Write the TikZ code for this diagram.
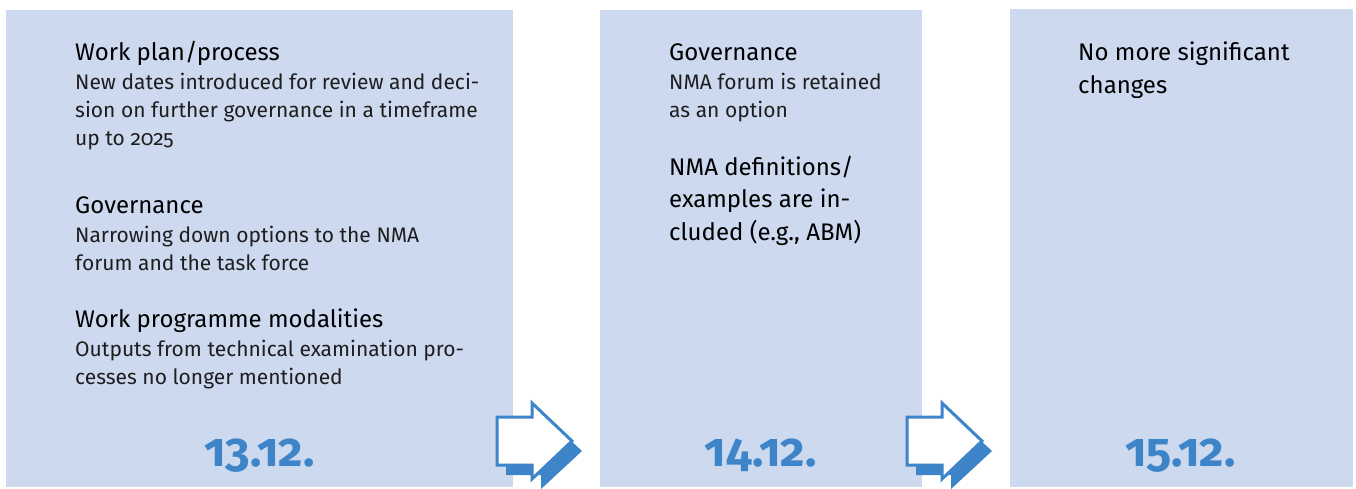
\documentclass[tikz,border=0pt]{standalone}
\usepackage{fontspec}
\setmainfont{Fira Sans}[Numbers=OldStyle]
\definecolor{panelblue}{HTML}{CDD9EF}
\definecolor{arrowblue}{HTML}{3D84C8}
\definecolor{bodytext}{HTML}{1E1E1E}
\begin{document}
\begin{tikzpicture}[x=1pt,y=-1pt,
  panel/.style={fill=panelblue,draw=none},
  head/.style={anchor=base west,inner sep=0pt,font=\fontsize{24}{32}\selectfont,text=black},
  body/.style={anchor=base west,inner sep=0pt,font=\fontsize{21}{28}\selectfont,text=bodytext},
  date/.style={anchor=base,inner sep=0pt,font=\fontsize{47.5}{50}\bfseries\selectfont,text=arrowblue},
  shadowarrow/.style={fill=arrowblue,draw=none},
  outlinearrow/.style={fill=white,draw=arrowblue,line width=3pt,line join=miter}]
\useasboundingbox (0,0) rectangle (1356,488);

% three panels
\fill[panel] (6,10) rectangle (513,487);
\fill[panel] (600,10) rectangle (922,487);
\fill[panel] (1010,9) rectangle (1353,487);

% hollow arrows with a solid drop shadow
\foreach \dx in {0,410}{
  \begin{scope}[xshift=\dx]
    \fill[shadowarrow] (506,427) -- (541,427) -- (541,413) -- (582,451) -- (541,489) -- (541,475) -- (506,475) -- cycle;
    \draw[outlinearrow] (497,417) -- (532,417) -- (532,403) -- (572,441) -- (532,479) -- (532,465) -- (497,465) -- cycle;
  \end{scope}
}

% one node per printed line: block name, left edge, first baseline, line pitch, style
\newcommand\textlines[6]{%
  \foreach [count=\i] \ln in {#6}
    \node[#5] (#1-\i) at (#2,{#3+(\i-1)*#4}) {\ln};}

% panel 1
\textlines{h1}{75}{60}{28}{head}{Work plan/process}
\textlines{b1}{75}{89}{28}{body}{New dates introduced for review and deci-,sion on further governance in a timeframe,up to 2025}
\textlines{h2}{75}{213}{28}{head}{Governance}
\textlines{b2}{75}{242}{28}{body}{Narrowing down options to the NMA,forum and the task force}
\textlines{h3}{75}{327}{28}{head}{Work programme modalities}
\textlines{b3}{75}{356}{28}{body}{Outputs from technical examination pro-,cesses no longer mentioned}
\node[date] (d1) at (259.5,466) {13.12.};

% panel 2
\textlines{h4}{669}{60}{28}{head}{Governance}
\textlines{b4}{669}{89}{28}{body}{NMA forum is retained,as an option}
\textlines{h5}{669}{175}{32.5}{head}{NMA definitions/,examples are in-,{cluded (e.g., ABM)}}
\node[date] (d2) at (760.5,466) {14.12.};

% panel 3
\textlines{h6}{1078}{60}{33}{head}{No more significant,changes}
\node[date] (d3) at (1180.5,466) {15.12.};
\end{tikzpicture}
\end{document}
